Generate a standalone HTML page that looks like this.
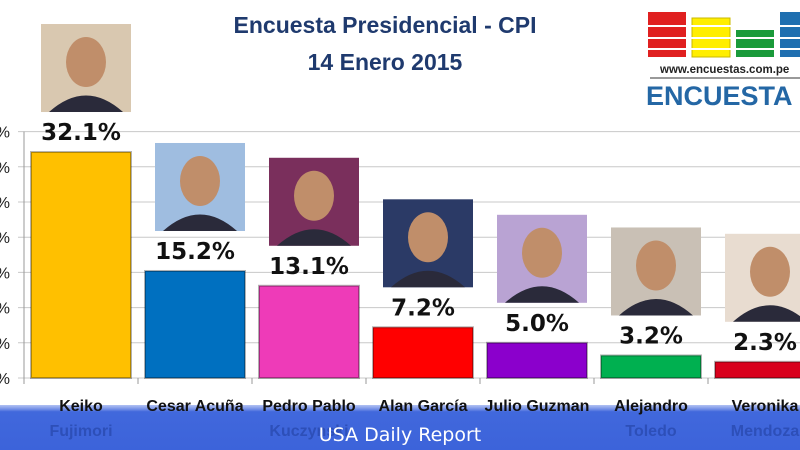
<!DOCTYPE html>
<html><head><meta charset="utf-8"><style>
html,body{margin:0;padding:0;background:#fff;width:800px;height:450px;overflow:hidden}
svg{display:block}
text{font-family:"Liberation Sans","DejaVu Sans",sans-serif}
</style></head><body>
<svg id="chart" width="800" height="450" viewBox="0 0 800 450" xmlns="http://www.w3.org/2000/svg">
<defs>
<linearGradient id="band" x1="0" y1="0" x2="0" y2="1"><stop offset="0" stop-color="#7d97ea" stop-opacity="0.6"/><stop offset="0.15" stop-color="#4168dc"/><stop offset="1" stop-color="#3c63da"/></linearGradient>
</defs>
<text x="385" y="33" text-anchor="middle" font-size="23" font-weight="bold" fill="#1f3a6e">Encuesta Presidencial - CPI</text>
<text x="385" y="70" text-anchor="middle" font-size="23" font-weight="bold" fill="#1f3a6e">14 Enero 2015</text>
<g>
<rect x="648" y="12" width="38" height="45" fill="#e02020"/>
<rect x="692" y="18" width="38" height="39" fill="#ffee00" stroke="#c9b800"/>
<rect x="736" y="30" width="38" height="27" fill="#1a9a3a"/>
<rect x="780" y="12" width="30" height="45" fill="#1f6fb0"/>
<line x1="640" y1="26" x2="800" y2="26" stroke="#fff" stroke-width="2"/>
<line x1="640" y1="38" x2="800" y2="38" stroke="#fff" stroke-width="2"/>
<line x1="640" y1="49" x2="800" y2="49" stroke="#fff" stroke-width="2"/>
<text x="660" y="73" font-size="11.5" font-weight="bold" fill="#222">www.encuestas.com.pe</text>
<line x1="650" y1="78" x2="800" y2="78" stroke="#333" stroke-width="1"/>
<text x="646" y="105" font-size="27" font-weight="bold" fill="#2467a5">ENCUESTA</text>
</g>
<g id="grid"></g>
<g id="bars"></g>
<rect x="0" y="405" width="800" height="45" fill="url(#band)"/>
<g id="labels2"></g>
<text x="400" y="441" text-anchor="middle" font-size="19" fill="#fff" style="font-family:'DejaVu Sans',sans-serif">USA Daily Report</text>
</svg>
<script>
const categories1=["Keiko","Cesar Acuña","Pedro Pablo","Alan García","Julio Guzman","Alejandro","Veronika"];
const categories2=["Fujimori","","Kuczynski","","","Toledo","Mendoza"];
const values=[32.1,15.2,13.1,7.2,5.0,3.2,2.3];
const valueLabels=["32.1%","15.2%","13.1%","7.2%","5.0%","3.2%","2.3%"];
const ticks=[0,5,10,15,20,25,30,35];
const colors=["#ffc000","#0070c0","#ee3bb8","#ff0000","#8b00cc","#00b050","#d8001c"];
const photoColors=["#d9c8b0","#9fbde0","#7a2f5c","#2b3a66","#b9a3d3","#c9c0b5","#e8dcd0"];
const NS="http://www.w3.org/2000/svg";
const grid=document.getElementById('grid'),bars=document.getElementById('bars'),lab2=document.getElementById('labels2');
const x0=24,step=114,bw=100,y0=378,ppu=7.04;
const y=v=>y0-v*ppu;
const xc=i=>x0+i*step+7;
function mk(tag,attrs,parent){const e=document.createElementNS(NS,tag);for(const k in attrs)e.setAttribute(k,attrs[k]);parent.appendChild(e);return e;}
ticks.forEach(t=>{
 const l=mk('line',{x1:x0-6,x2:800,y1:y(t),y2:y(t),stroke:'#c8c8c8','stroke-width':1},grid);
 
 
 const tx=mk('text',{x:10,y:y(t)+6,'text-anchor':'end','font-size':16,fill:'#222'},grid);
 tx.textContent=t+'%';
 
 
});
const ax=mk('line',{x1:x0,x2:x0,y1:y(35),y2:y0+6,stroke:'#999'},grid);


values.forEach((v,i)=>{
 const bx=xc(i);
 const r=mk('rect',{x:bx,y:y(v),width:bw,height:y0-y(v),fill:colors[i],stroke:'rgba(0,0,0,0.3)','stroke-width':2},bars);
 
 
 const ph=mk('g',{},bars);
 
 
 const py=y(v)-40-88, px=bx+10;
 mk('rect',{x:px,y:py,width:90,height:88,fill:photoColors[i]},ph);
 mk('ellipse',{cx:px+45,cy:py+38,rx:20,ry:25,fill:'#c08e6a'},ph);
 mk('path',{d:`M${px+8} ${py+88} Q${px+45} ${py+55} ${px+82} ${py+88}Z`,fill:'#2a2a3a'},ph);
 const vl=mk('text',{x:bx+bw/2,y:y(v)-12,'text-anchor':'middle','font-size':23,'font-weight':'bold',fill:'#111',style:"font-family:'DejaVu Sans',sans-serif"},bars);
 vl.textContent=valueLabels[i];
 
 
 const c1=mk('text',{x:bx+bw/2,y:411,'text-anchor':'middle','font-size':16,'font-weight':'bold',fill:'#111'},lab2);
 c1.textContent=categories1[i];
 
 
 if(categories2[i]){const c2=mk('text',{x:bx+bw/2,y:436,'text-anchor':'middle','font-size':16,'font-weight':'bold',fill:'#2d4fb8'},lab2);
 c2.textContent=categories2[i];
 
 }
 const tk=mk('line',{x1:x0+i*step+step,x2:x0+i*step+step,y1:y0,y2:y0+6,stroke:'#999'},grid);
 
 
});
</script>
</body></html>
